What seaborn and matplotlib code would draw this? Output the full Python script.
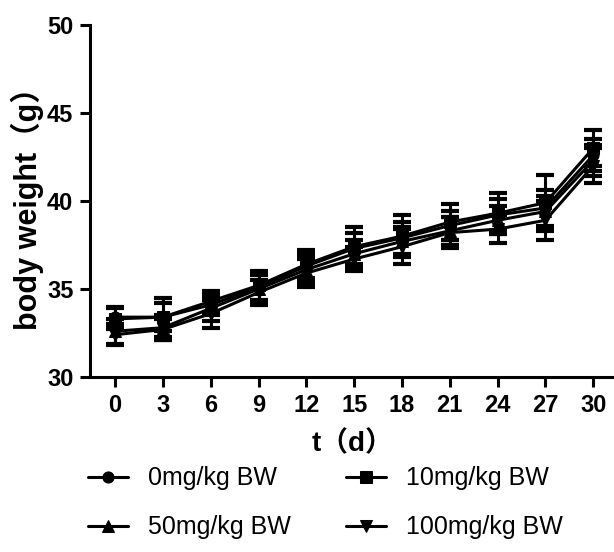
import matplotlib
matplotlib.use("Agg")
import matplotlib.pyplot as plt
import seaborn as sns
import pandas as pd

# data
days = [0, 3, 6, 9, 12, 15, 18, 21, 24, 27, 30]
groups = ["0mg/kg BW", "10mg/kg BW", "50mg/kg BW", "100mg/kg BW"]
w_0 = [33.4, 33.4, 34.1, 35.1, 36.3, 37.3, 37.9, 38.6, 39.2, 39.6, 42.6]
w_10 = [33.3, 33.4, 34.3, 35.2, 36.4, 37.4, 38.0, 38.8, 39.3, 39.9, 43.0]
w_50 = [32.6, 32.8, 33.9, 35.0, 36.1, 37.0, 37.7, 38.3, 38.9, 39.4, 42.3]
w_100 = [32.4, 32.7, 33.6, 34.8, 35.9, 36.7, 37.4, 38.2, 38.4, 38.9, 42.0]
sd_0 = [0.6, 0.8, 0.6, 0.8, 0.8, 0.9, 0.9, 0.8, 0.9, 1.0, 0.9]
sd_10 = [0.6, 1.1, 0.6, 0.8, 0.8, 1.1, 1.2, 1.0, 1.15, 1.6, 1.0]
sd_50 = [0.7, 0.7, 0.7, 0.8, 0.8, 0.8, 0.8, 0.8, 0.8, 0.9, 0.9]
sd_100 = [0.6, 0.6, 0.8, 0.7, 0.8, 0.7, 1.0, 0.9, 0.8, 1.1, 1.0]

means = [w_0, w_10, w_50, w_100]
sds = [sd_0, sd_10, sd_50, sd_100]
markers = ["o", "s", "^", "v"]

df = pd.concat([pd.DataFrame({"day": days, "weight": m, "sd": s, "group": g})
                for m, s, g in zip(means, sds, groups)])

sns.set_style("ticks")
plt.rcParams["font.family"] = ["Liberation Sans", "Noto Sans CJK SC"]
plt.rcParams["text.color"] = "black"
plt.rcParams["axes.labelcolor"] = "black"
plt.rcParams["xtick.color"] = "black"
plt.rcParams["ytick.color"] = "black"
plt.rcParams["axes.edgecolor"] = "black"

fig = plt.figure(figsize=(6.14, 5.52), dpi=100)
ax = fig.add_axes([0.1466, 0.317, 0.8534, 0.638])

for g, mk in zip(groups, markers):
    sub = df[df["group"] == g]
    ax.errorbar(sub["day"], sub["weight"], yerr=sub["sd"], fmt="none",
                ecolor="black", elinewidth=2.2, capsize=6.5, capthick=3, zorder=2)
    sns.lineplot(data=sub, x="day", y="weight", ax=ax, color="black",
                 marker=mk, markersize=8, linewidth=2.2, label=g,
                 markeredgecolor="black", zorder=3)

ax.set_xlim(-1.57, 31.3)
ax.set_ylim(30, 50)
ax.set_xticks(days)
ax.set_yticks([30, 35, 40, 45, 50])
ax.tick_params(width=2.2, length=7, labelsize=17, direction="out", pad=5)
for lab in ax.get_xticklabels() + ax.get_yticklabels():
    lab.set_fontweight("bold")
for side in ["left", "bottom"]:
    ax.spines[side].set_linewidth(2.2)
sns.despine(ax=ax)

ax.set_xlabel("t（d）", fontsize=20, fontweight="bold", labelpad=10)
ax.set_ylabel("body weight（g）", fontsize=22, fontweight="bold", labelpad=2)

handles, labels = ax.get_legend_handles_labels()
ax.get_legend().remove()
# reference reads row-wise: 0, 10 / 50, 100
order = [0, 2, 1, 3]
fig.legend([handles[i] for i in order], [labels[i] for i in order], ncol=2,
           loc="center", bbox_to_anchor=(0.53, 0.089), frameon=False,
           fontsize=18, handlelength=1.6, handletextpad=0.8,
           columnspacing=2.2, labelspacing=1.0)

fig.savefig("out.png", dpi=100)
